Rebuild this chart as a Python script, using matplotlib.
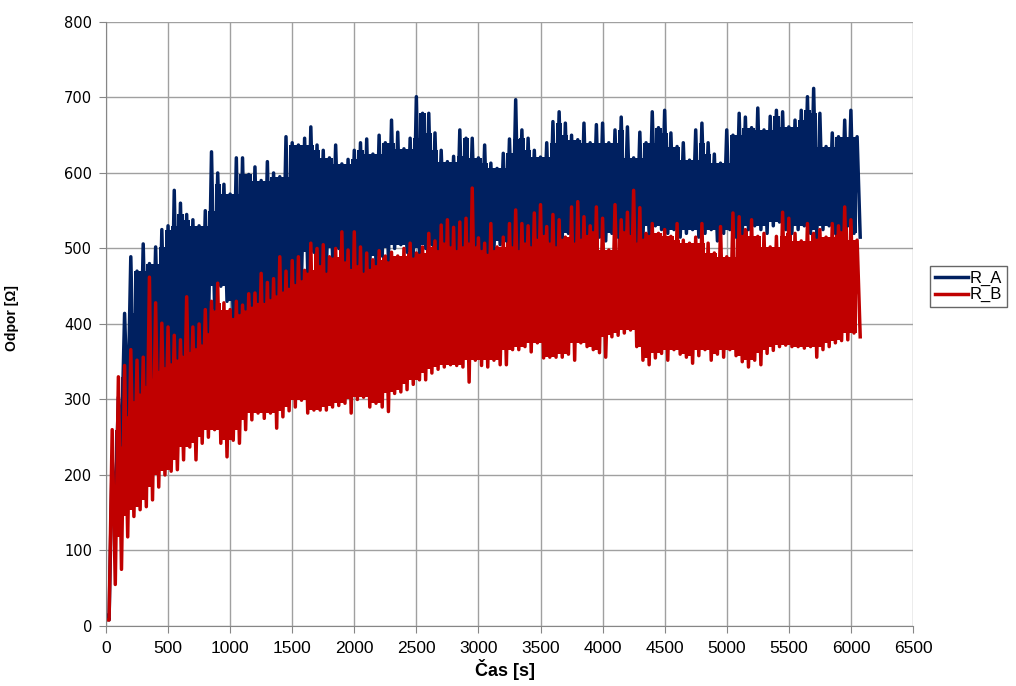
#!/usr/bin/env python
# -*- coding: utf-8 -*-

import numpy as np
import matplotlib
matplotlib.use('Agg')
import matplotlib.pyplot as plt

# sampling step of the record [s]; each step keeps the max and min seen in it
t_step = 50

# R_A: upper / lower envelope per step [Ohm]
ra_hi = [15, 220, 303, 414, 489, 470, 506, 480, 502, 525,
         530, 577, 560, 545, 538, 530, 550, 628, 600, 585,
         572, 620, 620, 598, 608, 590, 615, 600, 595, 648,
         640, 637, 646, 661, 637, 630, 620, 637, 612, 618,
         630, 640, 645, 625, 650, 640, 670, 654, 632, 646,
         701, 679, 679, 653, 630, 615, 622, 657, 646, 646,
         620, 637, 613, 606, 626, 645, 697, 657, 646, 630,
         621, 640, 668, 681, 666, 650, 644, 666, 640, 664,
         666, 640, 657, 674, 661, 620, 654, 640, 681, 660,
         683, 653, 635, 640, 617, 657, 666, 640, 625, 613,
         657, 650, 679, 674, 660, 686, 657, 675, 683, 681,
         661, 670, 683, 701, 712, 679, 635, 653, 648, 670,
         683, 648]
ra_lo = [8, 150, 240, 280, 300, 310, 320, 330, 340, 345,
         350, 355, 360, 365, 370, 375, 390, 420, 450, 430,
         410, 415, 420, 425, 430, 430, 435, 440, 445, 450,
         455, 460, 470, 495, 480, 470, 490, 500, 485, 475,
         480, 470, 475, 480, 490, 485, 500, 505, 495, 490,
         495, 500, 505, 500, 510, 505, 500, 505, 510, 505,
         500, 495, 500, 505, 510, 505, 500, 510, 505, 515,
         520, 510, 505, 515, 520, 510, 515, 520, 525, 515,
         510, 520, 515, 525, 520, 510, 515, 520, 530, 525,
         520, 525, 515, 520, 525, 515, 520, 525, 510, 520,
         525, 515, 520, 525, 530, 525, 520, 530, 535, 525,
         520, 525, 530, 520, 515, 525, 530, 520, 525, 530,
         520, 515]

# R_B: upper / lower envelope per step [Ohm]
rb_hi = [8, 260, 330, 345, 366, 352, 356, 462, 428, 401,
         396, 385, 379, 436, 396, 400, 419, 430, 454, 428,
         419, 430, 425, 440, 441, 467, 455, 460, 489, 470,
         484, 489, 471, 507, 500, 505, 489, 500, 522, 498,
         522, 502, 494, 485, 497, 490, 495, 490, 500, 507,
         494, 502, 520, 510, 531, 538, 528, 535, 540, 580,
         514, 507, 533, 502, 515, 533, 551, 533, 530, 547,
         558, 529, 545, 538, 515, 555, 562, 542, 530, 555,
         540, 498, 558, 538, 548, 577, 554, 520, 533, 520,
         525, 516, 533, 511, 507, 515, 533, 507, 494, 529,
         489, 547, 542, 525, 538, 516, 520, 502, 516, 548,
         540, 520, 510, 533, 520, 525, 515, 533, 530, 555,
         538, 511]
rb_lo = [8, 55, 75, 118, 145, 154, 158, 167, 184, 200,
         205, 207, 220, 237, 220, 242, 250, 260, 242, 224,
         246, 242, 260, 273, 282, 275, 282, 262, 277, 285,
         290, 299, 282, 286, 286, 286, 290, 292, 295, 282,
         300, 303, 290, 295, 290, 284, 308, 310, 313, 320,
         326, 326, 335, 340, 343, 346, 345, 343, 323, 352,
         345, 343, 352, 346, 346, 366, 366, 370, 363, 375,
         355, 356, 356, 356, 360, 352, 375, 370, 366, 362,
         356, 383, 385, 388, 392, 370, 352, 346, 355, 361,
         352, 366, 360, 356, 348, 358, 366, 352, 360, 356,
         366, 358, 350, 343, 352, 346, 361, 365, 370, 372,
         370, 370, 368, 370, 356, 366, 370, 375, 378, 379,
         388, 383]

series = [('R_A', ra_hi, ra_lo, '#002060'),
          ('R_B', rb_hi, rb_lo, '#C00000')]

x_ticks = list(range(0, 6501, 500))
y_ticks = list(range(0, 801, 100))

plt.rcParams['font.family'] = ['Liberation Sans', 'DejaVu Sans']
plt.rcParams['font.size'] = 10


def core_band(hi, lo):
    # part of the band that every neighbouring swing passes through
    hp = np.pad(hi, 1, mode='edge')
    lp = np.pad(lo, 1, mode='edge')
    top = np.minimum(np.minimum(hp[:-2], hp[1:-1]), hp[2:])
    bot = np.maximum(np.maximum(lp[:-2], lp[1:-1]), lp[2:])
    return bot, np.maximum(top, bot)


fig = plt.figure(figsize=(10.16, 6.86), dpi=100)
ax = fig.add_axes([0.1043, 0.0875, 0.7943, 0.8805])

handles = []
for name, hi, lo, color in series:
    hi = np.asarray(hi, dtype=float)
    lo = np.asarray(lo, dtype=float)
    t = np.arange(len(hi)) * t_step
    bot, top = core_band(hi, lo)
    ax.fill_between(t, bot, top, step='mid', color=color, lw=0)
    # swing between max and min of every step
    xs = np.column_stack([t, t + t_step / 2.0]).ravel()
    ys = np.column_stack([hi, lo]).ravel()
    line, = ax.plot(xs, ys, color=color, lw=2.5, label=name)
    handles.append(line)

ax.set_xlim(0, 6500)
ax.set_ylim(0, 800)
ax.set_xticks(x_ticks)
ax.set_yticks(y_ticks)
ax.grid(True, color='#a0a0a0', lw=1)
ax.set_axisbelow(True)

for side in ['top', 'right']:
    ax.spines[side].set_visible(False)
for side in ['left', 'bottom']:
    ax.spines[side].set_color('#868686')
ax.tick_params(direction='out', length=5, color='#868686')
for lab in ax.get_yticklabels():
    lab.set_family(['DejaVu Sans'])
    lab.set_fontsize(10.5)
for lab in ax.get_xticklabels():
    lab.set_family(['Liberation Sans Narrow', 'Liberation Sans'])
    lab.set_fontsize(12.5)
ax.tick_params(axis='y', pad=5)
ax.tick_params(axis='x', pad=6)

ax.set_xlabel('Čas [s]', fontweight='bold', fontsize=13,
              family=['Liberation Sans Narrow', 'Liberation Sans'])
ax.set_ylabel('Odpor [Ω]', fontweight='bold', fontsize=10)
ax.xaxis.set_label_coords(0.494, -0.055)
ax.yaxis.set_label_coords(-0.108, 0.51)

leg = fig.legend(handles=handles, loc='center left',
                 bbox_to_anchor=(930 / 1016.0, 1 - 286.5 / 686.0),
                 fancybox=False, frameon=True, handlelength=2.0,
                 handletextpad=0.1, borderpad=0.3, labelspacing=0.1,
                 borderaxespad=0, prop={'family': 'Liberation Sans', 'size': 12})
leg.get_frame().set_edgecolor('#404040')
leg.get_frame().set_linewidth(1)
for h in leg.get_lines():
    h.set_linewidth(2.5)

fig.savefig('out.png', dpi=100)
